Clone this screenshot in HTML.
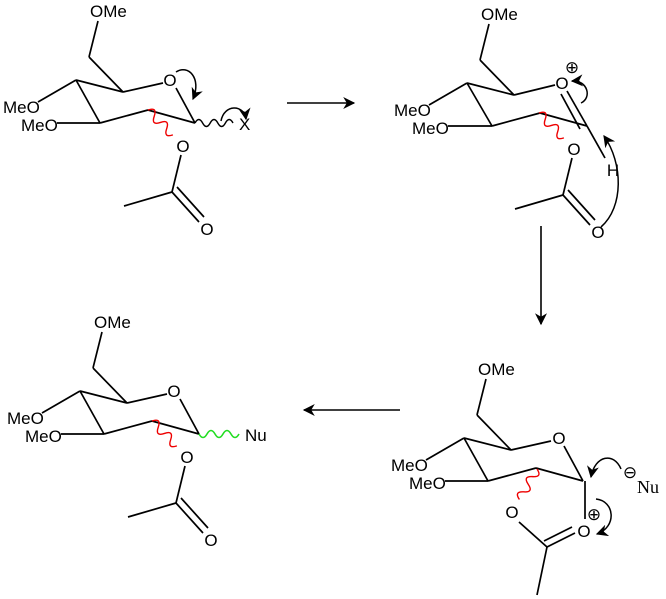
<!DOCTYPE html>
<html><head><meta charset="utf-8"><style>
html,body{margin:0;padding:0;background:#fff}
svg{display:block}
text{font-family:"Liberation Sans",sans-serif;font-size:17px;fill:#000}
</style></head><body>
<svg width="666" height="599" viewBox="0 0 666 599" xmlns="http://www.w3.org/2000/svg">
<defs>
<marker id="ah2" viewBox="0 0 10 10" refX="9" refY="5" markerWidth="14" markerHeight="12" orient="auto" markerUnits="userSpaceOnUse">
<path d="M0 0 L10 5 L0 10 L3 5 Z" fill="#000"/></marker>
<g id="core" stroke="#000" stroke-width="1.7" fill="none">
<line x1="98" y1="21" x2="89" y2="57"/><line x1="89" y1="57" x2="123" y2="92"/>
<line x1="76" y1="80" x2="123" y2="92"/><line x1="123" y1="92" x2="163" y2="83"/>
<line x1="176" y1="88" x2="195" y2="123"/><line x1="195" y1="123" x2="148" y2="110"/>
<line x1="148" y1="110" x2="100" y2="123"/><line x1="100" y1="123" x2="76" y2="80"/>
<line x1="38" y1="102" x2="76" y2="80"/><line x1="57" y1="123" x2="100" y2="123"/>
</g>
<g id="coretext">
<text x="90" y="17">OMe</text>
<text x="3" y="113">MeO</text>
<text x="21" y="131">MeO</text>
</g>
<g id="acetyl">
<g transform="translate(148,110) rotate(45)"><path d="M0 0 q4.4 -9 8.8 0 t8.8 0 t8.8 0 t8.8 0" stroke="#e00" stroke-width="1.4" fill="none"/></g>
<g stroke="#000" stroke-width="1.7" fill="none">
<line x1="181" y1="155" x2="172" y2="192"/><line x1="172" y1="192" x2="124" y2="206"/>
<line x1="172" y1="192" x2="199" y2="222"/><line x1="177" y1="187" x2="204" y2="217"/>
</g>
<text x="183" y="152" text-anchor="middle">O</text>
<text x="207" y="235" text-anchor="middle">O</text>
</g>
</defs>

<!-- Molecule 1 -->
<use href="#core"/><use href="#coretext"/><use href="#acetyl"/>
<text x="170" y="86" text-anchor="middle">O</text>
<g transform="translate(195,123)"><path d="M0 0 q3.8 -7 7.6 0 t7.6 0 t7.6 0 t7.6 0 t7.6 0" stroke="#000" stroke-width="1.4" fill="none"/></g>
<text x="239" y="130">X</text>
<path d="M176 72 C188 64 202 78 193 99" stroke="#000" stroke-width="1.5" fill="none" marker-end="url(#ah2)"/>
<path d="M221 121 C224 104 244 104 246 119" stroke="#000" stroke-width="1.5" fill="none" marker-end="url(#ah2)"/>

<line x1="287" y1="103" x2="354" y2="103" stroke="#000" stroke-width="1.6" marker-end="url(#ah2)"/>

<!-- Molecule 2 -->
<g transform="translate(391,3)">
<g stroke="#000" stroke-width="1.7" fill="none">
<line x1="98" y1="21" x2="89" y2="57"/><line x1="89" y1="57" x2="123" y2="92"/>
<line x1="76" y1="80" x2="123" y2="92"/><line x1="123" y1="92" x2="164" y2="82"/>
<line x1="176" y1="88" x2="196" y2="123"/><line x1="170" y1="91" x2="189" y2="126"/>
<line x1="196" y1="123" x2="149" y2="110"/>
<line x1="149" y1="110" x2="101" y2="123"/><line x1="101" y1="123" x2="76" y2="80"/>
<line x1="38" y1="102" x2="76" y2="80"/><line x1="57" y1="123" x2="101" y2="123"/>
<line x1="196" y1="123" x2="214" y2="155"/>
</g>
<use href="#coretext"/><use href="#acetyl"/>
<text x="171" y="86" text-anchor="middle">O</text>
<text x="181" y="70" text-anchor="middle" font-size="14">⊕</text>
<text x="222" y="173" text-anchor="middle">H</text>
<path d="M190 100 C201 95 197 77 181 78" stroke="#000" stroke-width="1.5" fill="none" marker-end="url(#ah2)"/>
<path d="M210 224 C233 204 232 160 213 133" stroke="#000" stroke-width="1.5" fill="none" marker-end="url(#ah2)"/>
</g>

<line x1="541" y1="226" x2="541" y2="324" stroke="#000" stroke-width="1.6" marker-end="url(#ah2)"/>

<!-- Molecule 4 -->
<g transform="translate(388,358)">
<use href="#core"/><use href="#coretext"/>
<text x="171" y="86" text-anchor="middle">O</text>
</g>
<g transform="translate(537,469) rotate(120)"><path d="M0 0 q4.4 -9 8.8 0 t8.8 0 t8.8 0 t8.8 0" stroke="#e00" stroke-width="1.4" fill="none"/></g>
<g stroke="#000" stroke-width="1.7" fill="none">
<line x1="585" y1="481" x2="585" y2="519"/>
<line x1="519" y1="522" x2="547" y2="547"/>
<line x1="547" y1="547" x2="575" y2="533"/><line x1="544" y1="541" x2="572" y2="527"/>
<line x1="547" y1="547" x2="537" y2="595"/>
</g>
<text x="512" y="518" text-anchor="middle">O</text>
<text x="584" y="537" text-anchor="middle">O</text>
<text x="594" y="520" text-anchor="middle" font-size="14">⊕</text>
<text x="630" y="478" text-anchor="middle" font-size="14">⊖</text>
<text x="637" y="493" style="font-family:'Liberation Serif',serif;font-size:18px">Nu</text>
<path d="M621 469 C614 452 595 455 591 477" stroke="#000" stroke-width="1.5" fill="none" marker-end="url(#ah2)"/>
<path d="M596 499 C615 501 617 527 597 534" stroke="#000" stroke-width="1.5" fill="none" marker-end="url(#ah2)"/>

<line x1="400" y1="410" x2="304" y2="410" stroke="#000" stroke-width="1.6" marker-end="url(#ah2)"/>

<!-- Molecule 3 -->
<g transform="translate(4,311)">
<use href="#core"/><use href="#coretext"/><use href="#acetyl"/>
<text x="170" y="86" text-anchor="middle">O</text>
<g transform="translate(195,123)"><path d="M0 0 q4 7 8 0 t8 0 t8 0 t8 0 t8 0" stroke="#22dd22" stroke-width="1.6" fill="none"/></g>
<text x="241" y="130">Nu</text>
</g>
</svg>
</body></html>
